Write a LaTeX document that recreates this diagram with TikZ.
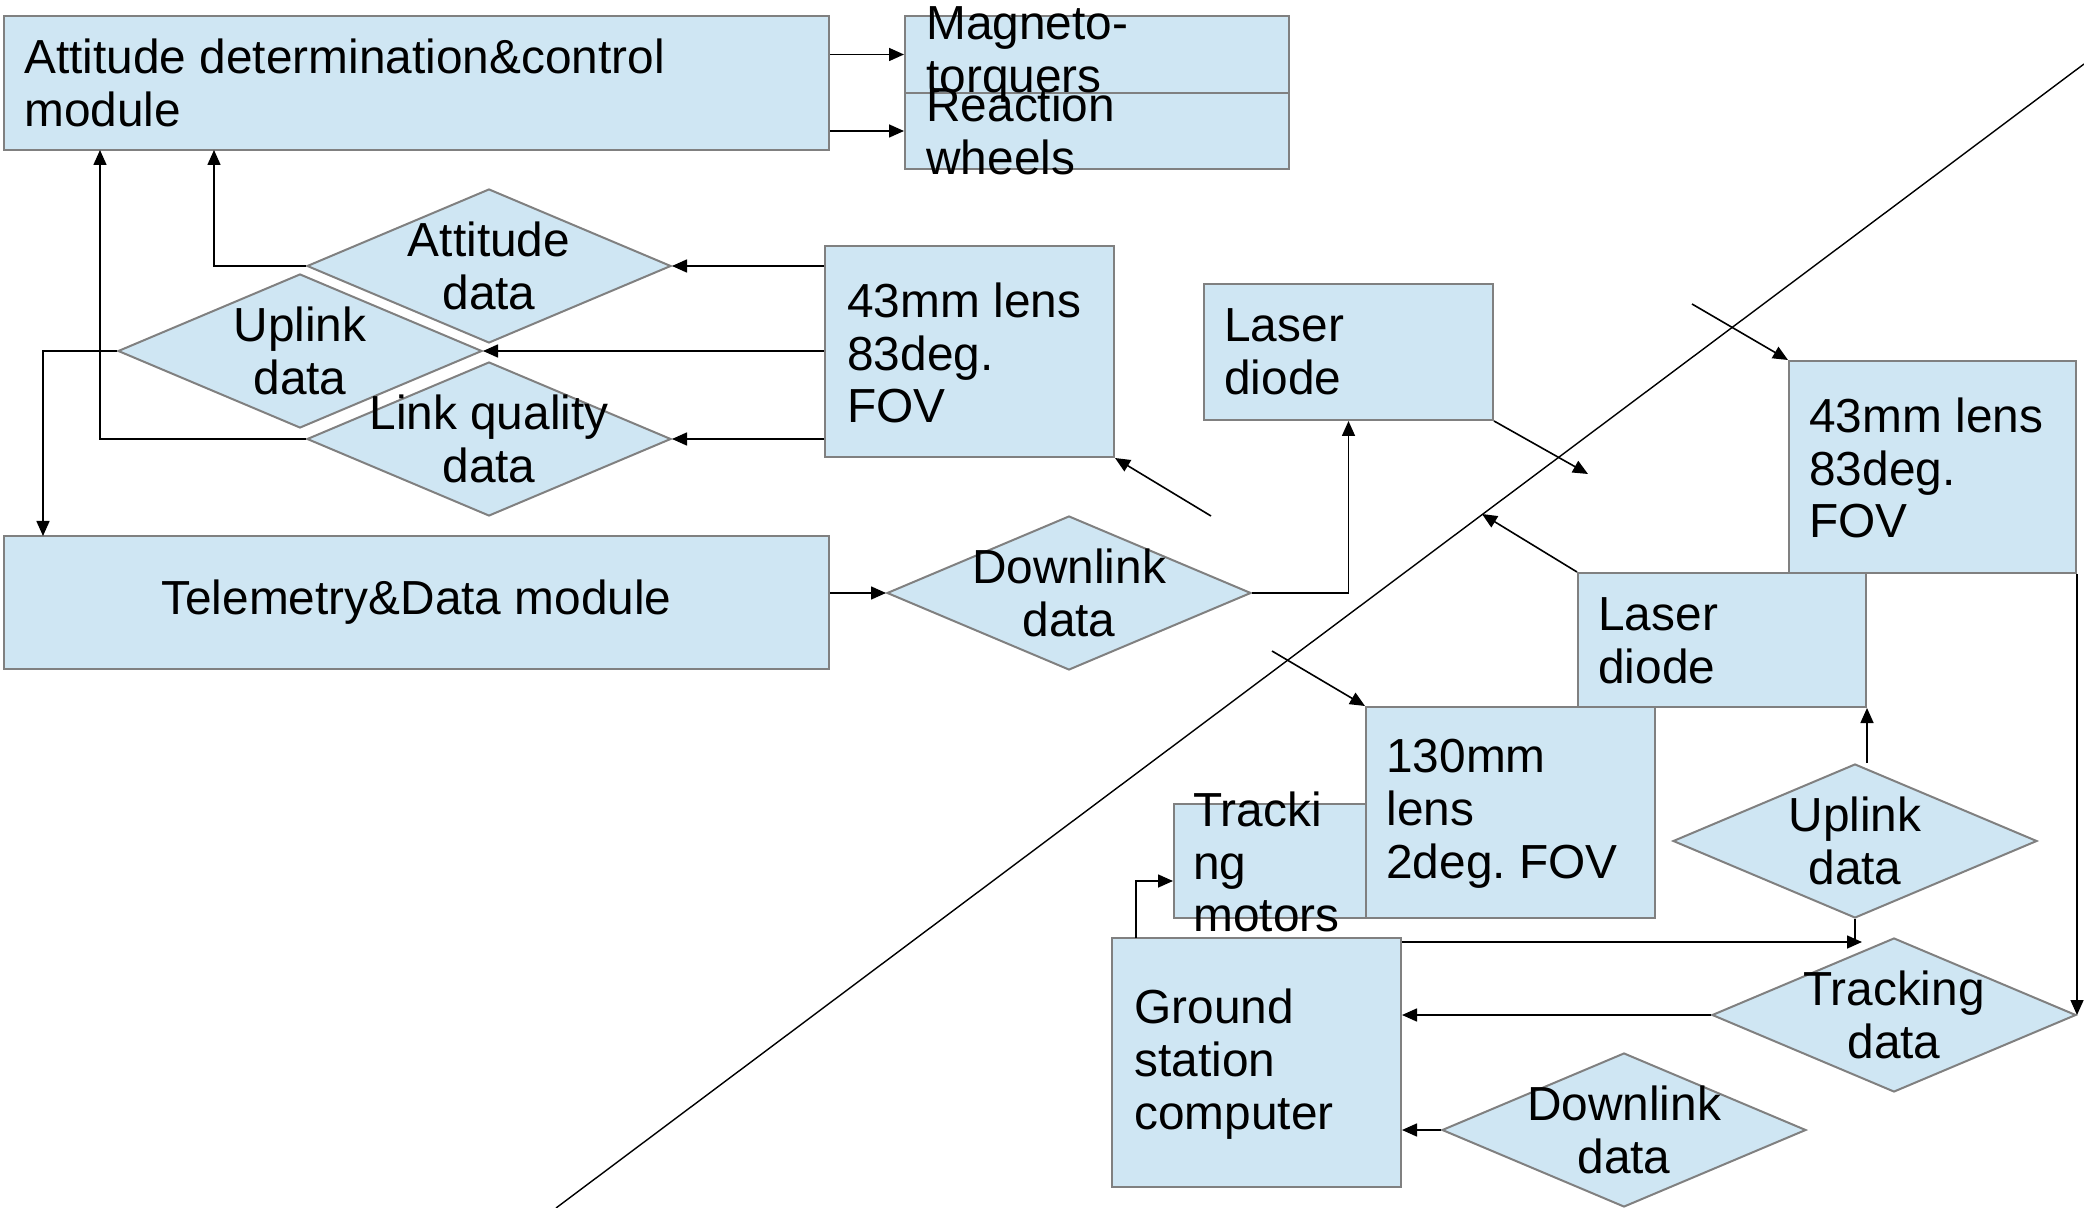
\documentclass[tikz,border=0pt]{standalone}
\usepackage{fontspec}
\setmainfont{Liberation Sans}
\usetikzlibrary{shapes.geometric,arrows.meta}
\definecolor{boxfill}{RGB}{207,230,243}
\definecolor{boxline}{RGB}{128,128,128}
\frenchspacing
\begin{document}
\begin{tikzpicture}[x=0.5pt,y=-0.5pt,
  block/.style={rectangle,draw=boxline,fill=boxfill,line width=1pt,inner sep=0pt},
  decision/.style={diamond,draw=boxline,fill=boxfill,line width=1pt,inner sep=0pt,
    minimum width=182pt,minimum height=77pt},
  lbl/.style={inner sep=0pt,align=left,font=\fontsize{23.9}{26.4}\selectfont},
  clbl/.style={inner sep=0pt,align=center,font=\fontsize{23.9}{26.4}\selectfont},
  link/.style={line width=0.8pt,-{Triangle[length=7.5pt,width=6.5pt]}},
  wire/.style={line width=0.8pt}]
\useasboundingbox (0,0) rectangle (2084,1208);

% ---------- satellite side ----------
\node[block,minimum width=412.5pt,minimum height=67pt] (adc) at (416.5,83) {};
\node[block,minimum width=192pt,minimum height=38.5pt] (mt) at (1097,54.5) {};
\node[block,minimum width=192pt,minimum height=38pt] (rw) at (1097,131) {};
\node[block,minimum width=144.5pt,minimum height=105.5pt] (lens1) at (969.5,351.5) {};
\node[block,minimum width=144.5pt,minimum height=68pt] (ldA) at (1348.5,352) {};
\node[block,minimum width=412.5pt,minimum height=66.5pt] (tel) at (416.5,602.5) {};

\node[decision] (att) at (489,266) {};
\node[decision] (upl) at (300,351) {};
\node[decision] (lq) at (489,439) {};
\node[decision] (dla) at (1069,593) {};

% ---------- ground side ----------
\node[block,minimum width=143.5pt,minimum height=106pt] (lens2) at (1932.5,467) {};
\node[block,minimum width=144pt,minimum height=67pt] (ldB) at (1722,640) {};
\node[block,minimum width=96pt,minimum height=57pt] (tm) at (1270,861) {};
\node[block,minimum width=144.5pt,minimum height=105.5pt] (lens3) at (1510.5,812.5) {};
\node[block,minimum width=144.5pt,minimum height=124.5pt] (gsc) at (1256.5,1062.5) {};

\node[decision] (upb) at (1855,841) {};
\node[decision] (trk) at (1894,1015) {};
\node[decision] (dlb) at (1624,1130) {};

% ---------- connectors ----------
\draw[link] (adc.east |- mt.west) -- (mt.west);
\draw[link] (adc.east |- rw.west) -- (rw.west);
\draw[link] (lens1.west |- att.east) -- (att.east);
\draw[link] (lens1.west |- upl.east) -- (upl.east);
\draw[link] (lens1.west |- lq.east) -- (lq.east);
\coordinate (adcA) at (214,150);
\coordinate (adcB) at (100,150);
\coordinate (telA) at (43,536);
\draw[link] (att.west) -| (adcA);
\draw[link] (lq.west) -| (adcB);
\draw[link] (upl.west) -| (telA);
\draw[link] (tel.east |- dla.west) -- (dla.west);
\draw[link] (dla.east) -| (ldA.south);

% optical paths across the link
\coordinate (beamA) at (1211,516);
\coordinate (beamB) at (1588,474);
\coordinate (beamC) at (1692,304);
\coordinate (beamD) at (1482,514);
\coordinate (beamE) at (1272,651);
\draw[link] (beamA) -- (lens1.south east);
\draw[link] (ldA.south east) -- (beamB);
\draw[link] (beamC) -- (lens2.north west);
\draw[link] (ldB.north west) -- (beamD);
\draw[link] (beamE) -- (lens3.north west);

\coordinate (gsA) at (1136,938);
\draw[link] (gsA) |- (tm.west |- 0,881);
\draw[link] (ldB.south east |- upb.north) -- (ldB.south east);
\coordinate (upJ) at (1862,942);
\draw[wire] (upb.south) -- (upb.south |- upJ);
\draw[link] (gsc.east |- upJ) -- (upJ);
\draw[link] (lens2.south east) -- (lens2.south east |- trk.east);
\draw[link] (trk.west) -- (gsc.east |- trk.west);
\draw[link] (dlb.west) -- (gsc.east |- dlb.west);

% boundary between space and ground
\coordinate (hzA) at (556,1208);
\coordinate (hzB) at (2084,64);
\draw[wire,line width=0.7pt] (hzA) -- (hzB);

% ---------- labels ----------
\node[lbl,anchor=west] (adcT) at (24,83) {Attitude determination\&control\\module};
\node[lbl,anchor=west] (mtT) at (926,54.5) {Magneto-\\torquers};
\node[lbl,anchor=west] (rwT) at (926,131) {Reaction\\wheels};
\node[lbl,anchor=west] (lens1T) at (847,353) {43mm lens\\83deg.\\FOV};
\node[lbl,anchor=west] (ldAT) at (1224,352) {Laser\\diode};
\node[clbl] (telT) at (tel.center) {Telemetry\&Data module};
\node[clbl] (attT) at (att.center) {Attitude\\data};
\node[clbl] (uplT) at (upl.center) {Uplink\\data};
\node[clbl] (lqT) at (lq.center) {Link quality\\data};
\node[clbl] (dlaT) at (dla.center) {Downlink\\data};

\node[lbl,anchor=west] (lens2T) at (1809,468) {43mm lens\\83deg.\\FOV};
\node[lbl,anchor=west] (ldBT) at (1598,641) {Laser\\diode};
\node[lbl,anchor=west] (lens3T) at (1386,814) {130mm\\lens\\2deg. FOV};
\node[lbl,anchor=west] (tmT) at (1193,862) {Tracki\\ng\\motors};
\node[lbl,anchor=west] (gscT) at (1134,1064) {Ground\\station\\computer};
\node[clbl] (upbT) at (upb.center) {Uplink\\data};
\node[clbl] (trkT) at (trk.center) {Tracking\\data};
\node[clbl] (dlbT) at (dlb.center) {Downlink\\data};
\end{tikzpicture}
\end{document}
